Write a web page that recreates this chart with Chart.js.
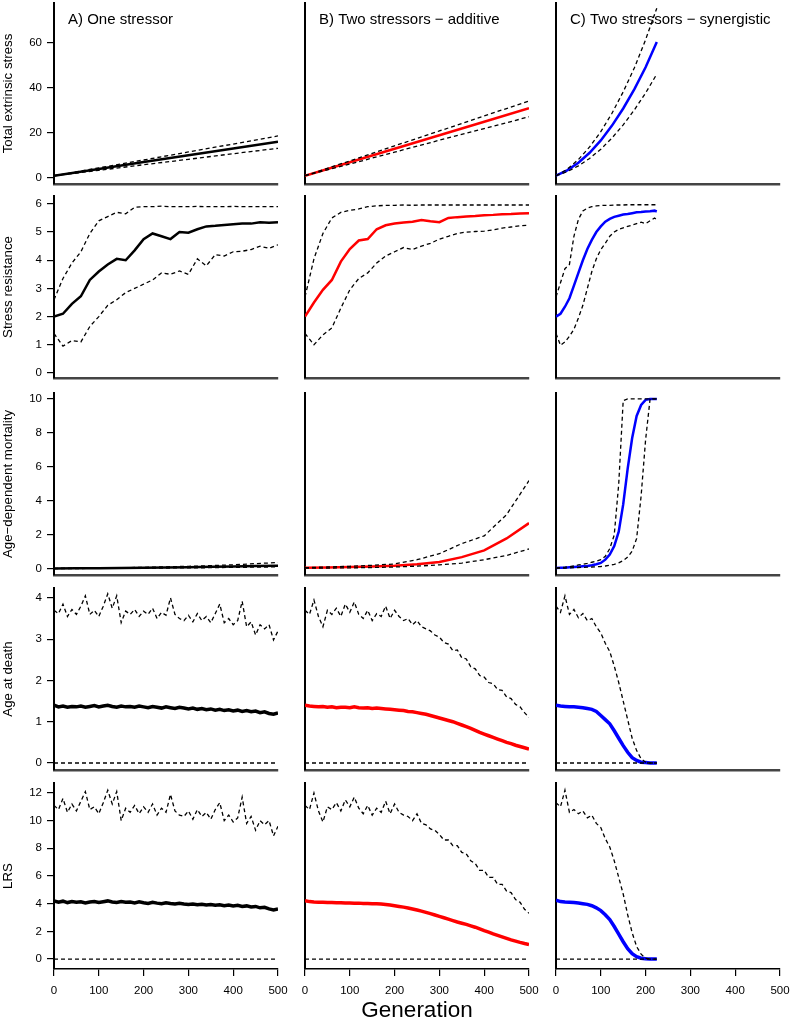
<!DOCTYPE html>
<html>
<head>
<meta charset="utf-8">
<script src="https://cdn.jsdelivr.net/npm/chart.js@4.4.1/dist/chart.umd.min.js"></script>
<style>
  html, body { margin: 0; padding: 0; background: #fff; }
  #fig { position: relative; width: 790px; height: 1022px; overflow: hidden; }
  #fig canvas { position: absolute; }
</style>
</head>
<body>
<div id="fig"></div>
<script>
// Generations (x values)
const gen100 = [0, 100, 200, 300, 400, 500];
const gen50 = [0, 50, 100, 150, 200, 250, 300, 350, 400, 450, 500];
const gen20 = [0, 20, 40, 60, 80, 100, 120, 140, 160, 180, 200, 220, 240, 260, 280, 300, 320, 340, 360, 380, 400, 420, 440, 460, 480, 500];
const gen10 = [0, 10, 20, 30, 40, 50, 60, 70, 80, 90, 100, 110, 120, 130, 140, 150, 160, 170, 180, 190,
               200, 210, 220, 230, 240, 250, 260, 270, 280, 290, 300, 310, 320, 330, 340, 350, 360, 370, 380, 390,
               400, 410, 420, 430, 440, 450, 460, 470, 480, 490, 500];
const genC25 = [0, 25, 50, 75, 100, 125, 150, 175, 200, 225];
const genC = [0, 10, 20, 30, 40, 50, 60, 70, 80, 90, 100, 110, 120, 130, 140, 150, 160, 170, 180, 190, 200, 210, 220, 225];
const genEnds = [0, 500];
const genEndsC = [0, 225];

// Tick labels
const xTicks = [0, 100, 200, 300, 400, 500];
const ticksStress = [0, 20, 40, 60];
const ticksResist = [0, 1, 2, 3, 4, 5, 6];
const ticksMort = [0, 2, 4, 6, 8, 10];
const ticksAge = [0, 1, 2, 3, 4];
const ticksLrs = [0, 2, 4, 6, 8, 10, 12];

// Row 1: total extrinsic stress
const stressA_mean = [1, 4, 7.1, 10.1, 13.1, 16.1];
const stressA_hi = [1, 4.5, 8.0, 11.6, 15.1, 18.7];
const stressA_lo = [1, 3.4, 5.9, 8.3, 10.8, 13.2];
const stressB_mean = [1, 7, 13, 19, 25, 31];
const stressB_hi = [1, 7.6, 14.3, 20.9, 27.6, 34.2];
const stressB_lo = [1, 6.2, 11.5, 16.8, 22, 27.2];
const stressC_mean = [1, 3.4, 6.8, 11.2, 16.7, 23.3, 30.9, 39.5, 49.2, 60.5];
const stressC_hi = [1, 3.9, 8.2, 13.8, 20.6, 28.8, 38.3, 49, 61.5, 75.5];
const stressC_lo = [1, 2.8, 5.4, 8.7, 12.8, 17.8, 23.6, 30.3, 37.8, 46.2];

// Row 2: stress resistance
const resistA_mean = [2.0, 2.1, 2.45, 2.72, 3.3, 3.6, 3.85, 4.05, 4.0, 4.35, 4.75, 4.95, 4.85, 4.75, 5.0, 4.98, 5.1, 5.2, 5.22, 5.25, 5.28, 5.3, 5.3, 5.35, 5.33, 5.35];
const resistA_hi = [2.6, 3.35, 3.9, 4.3, 4.95, 5.4, 5.55, 5.7, 5.65, 5.88, 5.9, 5.9, 5.92, 5.9, 5.9, 5.9, 5.91, 5.9, 5.9, 5.9, 5.91, 5.9, 5.9, 5.9, 5.9, 5.9];
const resistA_lo = [1.4, 0.95, 1.15, 1.1, 1.65, 2.0, 2.4, 2.6, 2.85, 3.0, 3.15, 3.3, 3.55, 3.5, 3.62, 3.5, 4.05, 3.8, 4.2, 4.15, 4.3, 4.32, 4.38, 4.5, 4.42, 4.55];
const resistB_mean = [2.0, 2.5, 2.95, 3.3, 3.95, 4.4, 4.7, 4.75, 5.1, 5.24, 5.3, 5.34, 5.37, 5.43, 5.38, 5.35, 5.5, 5.53, 5.55, 5.57, 5.6, 5.61, 5.63, 5.64, 5.66, 5.67];
const resistB_hi = [2.7, 4.05, 4.95, 5.5, 5.7, 5.77, 5.82, 5.9, 5.93, 5.95, 5.95, 5.96, 5.95, 5.96, 5.96, 5.96, 5.96, 5.96, 5.96, 5.96, 5.96, 5.96, 5.96, 5.96, 5.96, 5.96];
const resistB_lo = [1.4, 1.0, 1.35, 1.6, 2.3, 2.95, 3.35, 3.55, 3.9, 4.15, 4.3, 4.45, 4.38, 4.5, 4.6, 4.75, 4.85, 4.95, 5.0, 5.02, 5.03, 5.08, 5.14, 5.18, 5.22, 5.25];
const resistC_mean = [2.0, 2.1, 2.35, 2.65, 3.1, 3.55, 4.0, 4.4, 4.72, 5.0, 5.2, 5.37, 5.47, 5.54, 5.58, 5.62, 5.64, 5.67, 5.7, 5.71, 5.73, 5.74, 5.76, 5.73];
const resistC_hi = [2.7, 3.2, 3.7, 3.85, 4.85, 5.45, 5.75, 5.85, 5.9, 5.93, 5.94, 5.95, 5.95, 5.96, 5.96, 5.96, 5.97, 5.97, 5.97, 5.97, 5.97, 5.97, 5.97, 5.97];
const resistC_lo = [1.4, 0.98, 1.1, 1.3, 1.55, 1.95, 2.4, 3.0, 3.6, 4.05, 4.38, 4.6, 4.85, 5.0, 5.1, 5.15, 5.2, 5.25, 5.3, 5.35, 5.3, 5.4, 5.5, 5.43];

// Row 3: age-dependent mortality
const mortA_mean = [0.03, 0.04, 0.05, 0.06, 0.07, 0.09, 0.11, 0.13, 0.15, 0.18, 0.2];
const mortA_hi = [0.04, 0.06, 0.07, 0.08, 0.1, 0.13, 0.16, 0.2, 0.25, 0.32, 0.38];
const mortA_lo = [0.02, 0.03, 0.04, 0.04, 0.05, 0.06, 0.07, 0.08, 0.1, 0.11, 0.13];
const mortB_mean = [0.07, 0.09, 0.12, 0.15, 0.2, 0.28, 0.42, 0.7, 1.1, 1.8, 2.7];
const mortB_hi = [0.08, 0.12, 0.16, 0.22, 0.3, 0.55, 0.9, 1.5, 1.95, 3.2, 5.2];
const mortB_lo = [0.05, 0.06, 0.07, 0.09, 0.12, 0.17, 0.25, 0.35, 0.55, 0.8, 1.18];
const mortC_mean = [0.06, 0.07, 0.08, 0.1, 0.12, 0.14, 0.16, 0.18, 0.22, 0.28, 0.36, 0.55, 0.85, 1.35, 2.2, 3.8, 5.9, 7.7, 9.0, 9.65, 9.95, 10, 10, 10];
const mortC_hi = [0.07, 0.09, 0.11, 0.14, 0.18, 0.24, 0.28, 0.33, 0.4, 0.46, 0.55, 0.75, 1.2, 2.0, 5.0, 9.9, 10, 10, 10, 10, 10, 10, 10, 10];
const mortC_lo = [0.04, 0.05, 0.06, 0.07, 0.08, 0.09, 0.1, 0.11, 0.12, 0.13, 0.15, 0.18, 0.22, 0.28, 0.36, 0.5, 0.7, 1.05, 1.8, 4.3, 7.6, 10, 10, 10];

// Row 4: age at death
const ageA_mean = [1.40, 1.36, 1.38, 1.35, 1.37, 1.36, 1.38, 1.35, 1.37, 1.39,
                   1.36, 1.38, 1.40, 1.37, 1.35, 1.38, 1.36, 1.37, 1.35, 1.38,
                   1.36, 1.34, 1.37, 1.35, 1.33, 1.36, 1.34, 1.32, 1.35, 1.33,
                   1.31, 1.33, 1.30, 1.32, 1.29, 1.31, 1.28, 1.30, 1.27, 1.29,
                   1.26, 1.28, 1.25, 1.27, 1.24, 1.26, 1.22, 1.24, 1.20, 1.18, 1.21];
const ageA_hi = [3.70, 3.62, 3.85, 3.55, 3.72, 3.60, 3.80, 4.05, 3.60, 3.70,
                 3.55, 3.80, 4.10, 3.75, 4.05, 3.40, 3.68, 3.60, 3.72, 3.55,
                 3.68, 3.60, 3.75, 3.50, 3.65, 3.58, 4.00, 3.60, 3.50, 3.45,
                 3.58, 3.42, 3.62, 3.45, 3.55, 3.40, 3.62, 3.85, 3.40, 3.50,
                 3.35, 3.45, 3.92, 3.30, 3.42, 3.10, 3.35, 3.25, 3.35, 2.98, 3.20];
const ageA_lo = [0, 0];
const ageB_mean = [1.40, 1.38, 1.37, 1.36, 1.37, 1.35, 1.36, 1.34, 1.35, 1.35,
                   1.34, 1.36, 1.34, 1.33, 1.34, 1.32, 1.33, 1.32, 1.31, 1.30,
                   1.29, 1.28, 1.27, 1.25, 1.24, 1.22, 1.20, 1.18, 1.15, 1.12,
                   1.09, 1.06, 1.03, 1.00, 0.96, 0.92, 0.88, 0.84, 0.79, 0.74,
                   0.70, 0.66, 0.62, 0.58, 0.54, 0.50, 0.47, 0.43, 0.40, 0.37, 0.34];
const ageB_hi = [3.70, 3.60, 3.95, 3.55, 3.30, 3.70, 3.60, 3.75, 3.55, 3.85,
                 3.65, 3.90, 3.60, 3.50, 3.70, 3.45, 3.62, 3.55, 3.80, 3.50,
                 3.70, 3.55, 3.45, 3.50, 3.35, 3.45, 3.30, 3.25, 3.20, 3.10,
                 3.05, 2.92, 2.88, 2.72, 2.74, 2.55, 2.52, 2.33, 2.28, 2.12,
                 2.08, 1.95, 1.92, 1.78, 1.76, 1.60, 1.56, 1.42, 1.36, 1.22, 1.10];
const ageB_lo = [0, 0];
const ageC_mean = [1.4, 1.38, 1.37, 1.36, 1.36, 1.35, 1.34, 1.32, 1.3, 1.25, 1.15, 1.05, 0.95, 0.78, 0.6, 0.42, 0.26, 0.13, 0.06, 0.02, 0.01, 0, 0, 0];
const ageC_hi = [3.8, 3.65, 4.05, 3.6, 3.72, 3.52, 3.62, 3.45, 3.5, 3.3, 3.15, 2.9, 2.7, 2.35, 1.95, 1.5, 1.05, 0.6, 0.3, 0.1, 0.02, 0, 0, 0];
const ageC_lo = [0, 0];

// Row 5: LRS
const lrsA_mean = [4.20, 4.10, 4.18, 4.08, 4.15, 4.10, 4.14, 4.06, 4.12, 4.16,
                   4.08, 4.14, 4.20, 4.12, 4.08, 4.15, 4.10, 4.12, 4.06, 4.13,
                   4.07, 4.02, 4.10, 4.04, 4.00, 4.06, 4.01, 3.97, 4.03, 3.98,
                   3.94, 3.98, 3.92, 3.96, 3.90, 3.94, 3.88, 3.92, 3.86, 3.90,
                   3.84, 3.88, 3.80, 3.84, 3.76, 3.80, 3.70, 3.74, 3.62, 3.55, 3.62];
const lrsA_hi = [11.1, 10.8, 11.6, 10.6, 11.2, 10.7, 11.4, 12.1, 10.8, 11.0,
                 10.5, 11.3, 12.2, 11.2, 12.1, 10.0, 10.9, 10.6, 11.1, 10.5,
                 11.0, 10.6, 11.2, 10.4, 10.9, 10.6, 11.9, 10.7, 10.4, 10.3,
                 10.7, 10.1, 10.8, 10.3, 10.6, 10.1, 10.8, 11.3, 10.0, 10.4,
                 9.9, 10.2, 11.7, 9.8, 10.3, 9.3, 10.0, 9.7, 10.0, 8.9, 9.6];
const lrsA_lo = [0, 0];
const lrsB_mean = [4.22, 4.15, 4.12, 4.10, 4.10, 4.08, 4.08, 4.06, 4.07, 4.05,
                   4.05, 4.04, 4.04, 4.02, 4.02, 4.00, 3.99, 3.97, 3.94, 3.90,
                   3.85, 3.80, 3.75, 3.69, 3.62, 3.54, 3.46, 3.37, 3.28, 3.18,
                   3.08, 2.98, 2.88, 2.78, 2.68, 2.59, 2.50, 2.40, 2.30, 2.18,
                   2.05, 1.94, 1.82, 1.71, 1.60, 1.49, 1.38, 1.29, 1.20, 1.12, 1.05];
const lrsB_hi = [11.1, 10.8, 12.0, 10.7, 9.9, 11.0, 10.8, 11.3, 10.7, 11.5,
                 11.0, 11.7, 10.9, 10.5, 11.1, 10.4, 10.9, 10.6, 11.4, 10.5,
                 11.2, 10.6, 10.4, 10.3, 10.0, 10.5, 9.8, 9.7, 9.4, 9.3,
                 9.0, 8.6, 8.6, 8.2, 8.2, 7.7, 7.6, 7.1, 6.9, 6.4,
                 6.4, 5.9, 5.9, 5.4, 5.4, 4.9, 4.8, 4.3, 4.1, 3.6, 3.3];
const lrsB_lo = [0, 0];
const lrsC_mean = [4.25, 4.15, 4.12, 4.1, 4.08, 4.05, 4.0, 3.95, 3.85, 3.7, 3.5, 3.2, 2.85, 2.35, 1.8, 1.25, 0.75, 0.38, 0.17, 0.06, 0.02, 0.01, 0, 0];
const lrsC_hi = [11.3, 11.0, 12.2, 10.6, 10.8, 10.5, 10.7, 10.2, 10.4, 9.8, 9.5, 8.7, 8.1, 7.1, 5.9, 4.7, 3.2, 1.9, 0.9, 0.35, 0.06, 0, 0, 0];
const lrsC_lo = [0, 0];

// Layout
const FONT = '"Liberation Sans", Arial, Helvetica, sans-serif';
const colLeft = [54, 305, 556];
const plotW = 224;
const colColor = ['#000000', '#ff0000', '#0000ff'];
const colTitle = ['A) One stressor', 'B) Two stressors \u2212 additive', 'C) Two stressors \u2212 synergistic'];

const rows = [
    { top: 3, bottom: 184, min: -2.67, max: 77.8, ticks: ticksStress, label: 'Total extrinsic stress', meanW: 2.5 },
    { top: 196, bottom: 378, min: -0.18, max: 6.28, ticks: ticksResist, label: 'Stress resistance', meanW: 2.5 },
    { top: 393, bottom: 575, min: -0.35, max: 10.35, ticks: ticksMort, label: 'Age\u2212dependent mortality', meanW: 2.5 },
    { top: 588, bottom: 770, min: -0.17, max: 4.24, ticks: ticksAge, label: 'Age at death', meanW: 3.5 },
    { top: 783, bottom: 969, min: -0.72, max: 12.72, ticks: ticksLrs, label: 'LRS', meanW: 3.5 }
];

// [row][col] -> [[xs, hi], [xs, lo], [xs, mean]]
const panels = [
    [[[gen100, stressA_hi], [gen100, stressA_lo], [gen100, stressA_mean]],
     [[gen100, stressB_hi], [gen100, stressB_lo], [gen100, stressB_mean]],
     [[genC25, stressC_hi], [genC25, stressC_lo], [genC25, stressC_mean]]],
    [[[gen20, resistA_hi], [gen20, resistA_lo], [gen20, resistA_mean]],
     [[gen20, resistB_hi], [gen20, resistB_lo], [gen20, resistB_mean]],
     [[genC, resistC_hi], [genC, resistC_lo], [genC, resistC_mean]]],
    [[[gen50, mortA_hi], [gen50, mortA_lo], [gen50, mortA_mean]],
     [[gen50, mortB_hi], [gen50, mortB_lo], [gen50, mortB_mean]],
     [[genC, mortC_hi], [genC, mortC_lo], [genC, mortC_mean]]],
    [[[gen10, ageA_hi], [genEnds, ageA_lo], [gen10, ageA_mean]],
     [[gen10, ageB_hi], [genEnds, ageB_lo], [gen10, ageB_mean]],
     [[genC, ageC_hi], [genEndsC, ageC_lo], [genC, ageC_mean]]],
    [[[gen10, lrsA_hi], [genEnds, lrsA_lo], [gen10, lrsA_mean]],
     [[gen10, lrsB_hi], [genEnds, lrsB_lo], [gen10, lrsB_mean]],
     [[genC, lrsC_hi], [genEndsC, lrsC_lo], [genC, lrsC_mean]]]
];

// Panel title drawn inside the plot area, top left
const panelTitle = {
    id: 'panelTitle',
    afterDraw(chart, args, opts) {
        if (!opts.text) return;
        const { ctx, chartArea } = chart;
        ctx.save();
        ctx.font = '15px ' + FONT;
        ctx.fillStyle = '#000';
        ctx.textBaseline = 'middle';
        ctx.textAlign = 'left';
        ctx.fillText(opts.text, chartArea.left + 14, chartArea.top + 16.5);
        ctx.restore();
    }
};

function toPoints(xs, ys) {
    return xs.map((x, i) => ({ x: x, y: ys[i] }));
}

const fig = document.getElementById('fig');
const padL = 54, padT = 6, padR = 10;

rows.forEach((row, ri) => {
    colLeft.forEach((left, ci) => {
        const isLeft = ci === 0;
        const isBottom = ri === rows.length - 1;
        const padB = isBottom ? 53 : 4;
        const plotH = row.bottom - row.top;
        const w = padL + plotW + padR;
        const h = padT + plotH + padB;

        const cv = document.createElement('canvas');
        cv.width = w; cv.height = h;
        cv.style.width = w + 'px'; cv.style.height = h + 'px';
        cv.style.left = (left - padL) + 'px';
        cv.style.top = (row.top - padT) + 'px';
        fig.appendChild(cv);

        const [hi, lo, mean] = panels[ri][ci];
        const dashed = { borderColor: '#000', borderWidth: 1.3, borderDash: [4, 3] };

        new Chart(cv, {
            type: 'line',
            data: {
                datasets: [
                    { data: toPoints(hi[0], hi[1]), ...dashed },
                    { data: toPoints(lo[0], lo[1]), ...dashed },
                    { data: toPoints(mean[0], mean[1]), borderColor: colColor[ci], borderWidth: row.meanW }
                ]
            },
            options: {
                responsive: false,
                animation: false,
                devicePixelRatio: 1,
                elements: { point: { radius: 0 }, line: { tension: 0 } },
                layout: { padding: { top: padT, right: padR, bottom: isBottom ? 0 : padB, left: 0 } },
                plugins: {
                    legend: { display: false },
                    tooltip: { enabled: false },
                    panelTitle: { text: ri === 0 ? colTitle[ci] : '' }
                },
                scales: {
                    x: {
                        type: 'linear',
                        min: 0,
                        max: 500,
                        afterBuildTicks: s => { s.ticks = xTicks.map(v => ({ value: v })); },
                        afterFit: s => {
                            s.height = isBottom ? padB : 0;
                            s.paddingLeft = 0; s.paddingRight = 0; s.paddingTop = 0; s.paddingBottom = 0;
                        },
                        grid: { display: isBottom, drawOnChartArea: false, tickLength: 7, color: '#000', lineWidth: 1.2 },
                        border: { display: true, color: isBottom ? '#000' : '#444', width: isBottom ? 1.5 : 2.5 },
                        ticks: { display: isBottom, padding: 8, color: '#000', maxRotation: 0, font: { family: FONT, size: 11.5 } },
                        title: {
                            display: isBottom && ci === 1,
                            text: 'Generation',
                            color: '#000',
                            padding: { top: 0, bottom: 0 },
                            font: { family: FONT, size: 22.5, lineHeight: 1 }
                        }
                    },
                    y: {
                        min: row.min,
                        max: row.max,
                        afterBuildTicks: s => { s.ticks = row.ticks.map(v => ({ value: v })); },
                        afterFit: s => {
                            s.width = padL;
                            s.paddingLeft = 0; s.paddingRight = 0; s.paddingTop = 0; s.paddingBottom = 0;
                        },
                        grid: { display: isLeft, drawOnChartArea: false, tickLength: 7, color: '#000', lineWidth: 1.2 },
                        border: { display: true, color: '#000', width: 2 },
                        ticks: { display: isLeft, padding: 5, color: '#000', font: { family: FONT, size: 11.5 } },
                        title: {
                            display: isLeft,
                            text: row.label,
                            color: '#000',
                            padding: { top: 0, bottom: 0 },
                            font: { family: FONT, size: 13.3 }
                        }
                    }
                }
            },
            plugins: [panelTitle]
        });
    });
});
</script>
</body>
</html>
